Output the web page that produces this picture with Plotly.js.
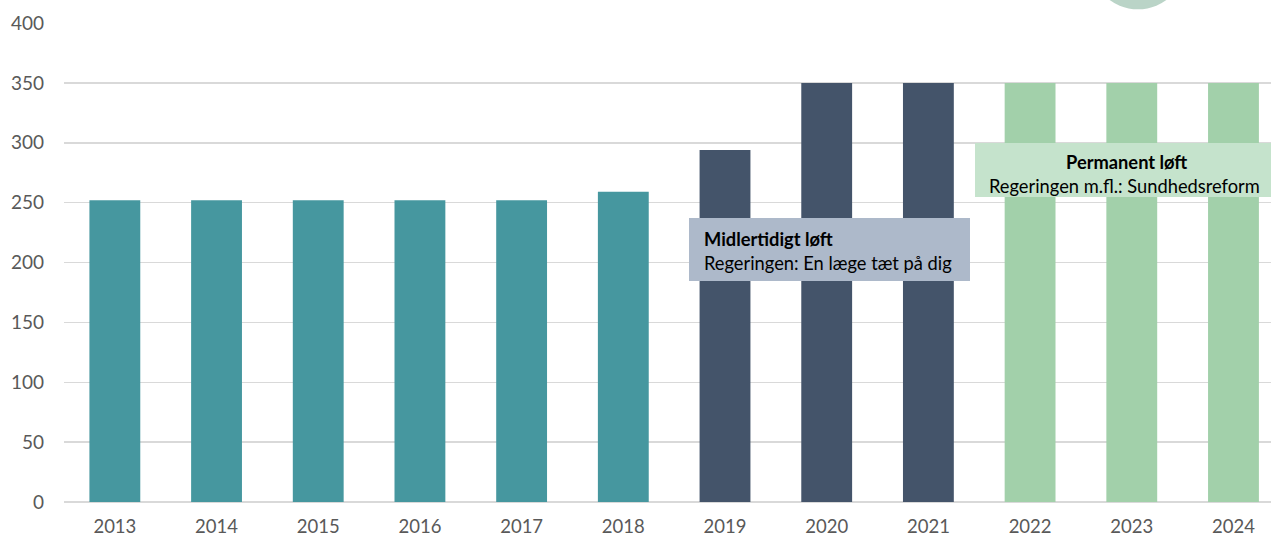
<!DOCTYPE html>
<html>
<head>
<meta charset="utf-8">
<script src="https://cdn.plot.ly/plotly-3.0.1.min.js"></script>
<style>html,body{margin:0;padding:0;background:#fff;}#chart{width:1271px;height:538px;}</style>
</head>
<body>
<div id="chart"></div>
<script>
const years = ['2013','2014','2015','2016','2017','2018','2019','2020','2021','2022','2023','2024'];
const values = [252, 252, 252, 252, 252, 259, 294, 350, 350, 350, 350, 350];
const barColors = ['#46979F','#46979F','#46979F','#46979F','#46979F','#46979F','#44546A','#44546A','#44546A','#A2D0AA','#A2D0AA','#A2D0AA'];
const yTicks = [0, 50, 100, 150, 200, 250, 300, 350, 400];

const boxTemp = {title: 'Midlertidigt løft', sub: 'Regeringen: En læge tæt på dig'};
const boxPerm = {title: 'Permanent løft', sub: 'Regeringen m.fl.: Sundhedsreform'};

// pixel -> paper helpers (plot area: x 64..1271, y 23..502)
const L = 64, R = 1271, T = 23, B = 502;
const px = x => (x - L) / (R - L);
const py = y => (B - y) / (B - T);

const trace = {
  type: 'bar',
  x: years,
  y: values,
  marker: {color: barColors},
  hoverinfo: 'x+y'
};

const layout = {
  width: 1271, height: 538,
  margin: {l: L, r: 1271 - R, t: T, b: 538 - B, pad: 0},
  paper_bgcolor: '#ffffff',
  plot_bgcolor: '#ffffff',
  bargap: 0.5,
  showlegend: false,
  font: {family: 'Lato, "Open Sans", sans-serif', color: '#595959', size: 19},
  xaxis: {
    type: 'category',
    range: [-0.5, 11.369],
    showgrid: false,
    showline: false,
    zeroline: false,
    ticks: '',
    ticklabelstandoff: 11,
    tickfont: {size: 18.5, color: '#595959'}
  },
  yaxis: {
    range: [0, 400],
    tickvals: yTicks,
    ticktext: yTicks.map(String),
    showgrid: true,
    gridcolor: '#D9D9D9',
    gridwidth: 1.5,
    zeroline: true,
    zerolinecolor: '#D9D9D9',
    zerolinewidth: 1.5,
    showline: false,
    ticks: '',
    ticklabelstandoff: 19,
    tickfont: {size: 19, color: '#595959'}
  },
  shapes: [
    {type: 'circle', xref: 'paper', yref: 'paper', layer: 'above',
     x0: px(1090), x1: px(1186), y0: py(9.3), y1: py(-87),
     fillcolor: '#BAD4C7', line: {width: 0}},
    {type: 'rect', xref: 'paper', yref: 'paper', layer: 'above',
     x0: px(689), x1: px(970), y0: py(281), y1: py(218),
     fillcolor: '#ADB9CA', line: {width: 0}},
    {type: 'rect', xref: 'paper', yref: 'paper', layer: 'above',
     x0: px(975), x1: px(1276), y0: py(197), y1: py(143),
     fillcolor: '#C5E3CC', line: {width: 0}}
  ],
  annotations: [
    {xref: 'paper', yref: 'paper', x: px(702), y: py(239), xanchor: 'left', yanchor: 'middle',
     text: '<b>' + boxTemp.title + '</b>', showarrow: false,
     font: {size: 18.3, color: '#000000'}},
    {xref: 'paper', yref: 'paper', x: px(702), y: py(263), xanchor: 'left', yanchor: 'middle',
     text: boxTemp.sub, showarrow: false,
     font: {size: 18.3, color: '#000000'}},
    {xref: 'paper', yref: 'paper', x: px(1126), y: py(162), xanchor: 'center', yanchor: 'middle',
     text: '<b>' + boxPerm.title + '</b>', showarrow: false,
     font: {size: 18.3, color: '#000000'}},
    {xref: 'paper', yref: 'paper', x: px(1124), y: py(186), xanchor: 'center', yanchor: 'middle',
     text: boxPerm.sub, showarrow: false,
     font: {size: 18.3, color: '#000000'}}
  ]
};

Plotly.newPlot('chart', [trace], layout, {displayModeBar: false, staticPlot: true});
</script>
</body>
</html>
